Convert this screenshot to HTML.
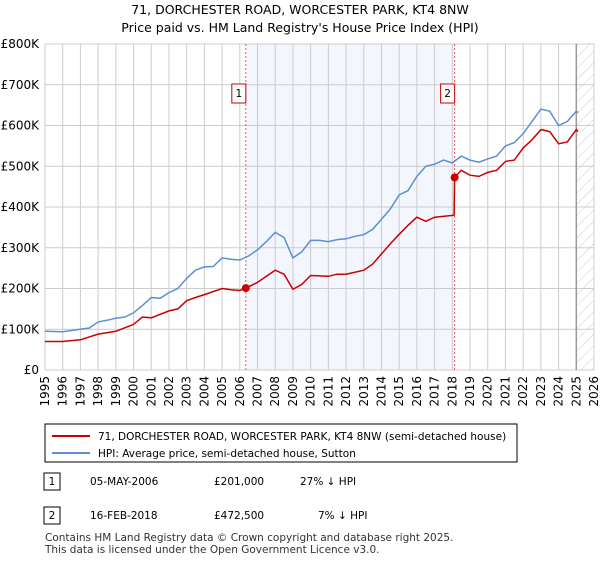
<!DOCTYPE html>
<html><head><meta charset="utf-8"><style>
body{margin:0;background:#fff;font-family:"DejaVu Sans","Liberation Sans",sans-serif;}
svg text{font-family:"DejaVu Sans","Liberation Sans",sans-serif;}
</style></head><body>
<svg width="600" height="560" xmlns="http://www.w3.org/2000/svg">
<defs><pattern id="h" width="8" height="8" patternUnits="userSpaceOnUse" patternTransform="rotate(45)"><line x1="0" y1="0" x2="0" y2="8" stroke="#ccc" stroke-width="1"/></pattern></defs>
<text x="300" y="14" text-anchor="middle" font-size="12.5">71, DORCHESTER ROAD, WORCESTER PARK, KT4 8NW</text>
<text x="300" y="32" text-anchor="middle" font-size="12.5">Price paid vs. HM Land Registry's House Price Index (HPI)</text>
<g id="plot"></g>
<rect x="45" y="424" width="472" height="38" fill="#fff" stroke="#000" stroke-width="1"/>
<line x1="52" y1="436" x2="90" y2="436" stroke="#cc0000" stroke-width="2"/>
<text x="98" y="440" font-size="10.5">71, DORCHESTER ROAD, WORCESTER PARK, KT4 8NW (semi-detached house)</text>
<line x1="52" y1="453" x2="90" y2="453" stroke="#5b8fd4" stroke-width="2"/>
<text x="98" y="457" font-size="10.5">HPI: Average price, semi-detached house, Sutton</text>
<g font-size="10.5">
<rect x="44" y="473" width="16" height="17" fill="#fff" stroke="#000"/>
<text x="52" y="485" text-anchor="middle">1</text>
<text x="90" y="485">05-MAY-2006</text>
<text x="214" y="485">£201,000</text>
<text x="300" y="485">27% ↓ HPI</text>
<rect x="44" y="507" width="16" height="17" fill="#fff" stroke="#000"/>
<text x="52" y="519" text-anchor="middle">2</text>
<text x="90" y="519">16-FEB-2018</text>
<text x="214" y="519">£472,500</text>
<text x="318" y="519">7% ↓ HPI</text>
</g>
<text x="45" y="541" font-size="10.5" fill="#333">Contains HM Land Registry data © Crown copyright and database right 2025.</text>
<text x="45" y="553" font-size="10.5" fill="#333">This data is licensed under the Open Government Licence v3.0.</text>
</svg>
<script>
const hpiYears=[1995,1996,1997,1997.5,1998,1998.5,1999,1999.5,2000,2000.5,2001,2001.5,2002,2002.5,2003,2003.5,2004,2004.5,2005,2005.5,2006,2006.5,2007,2007.5,2008,2008.5,2009,2009.5,2010,2010.5,2011,2011.5,2012,2012.5,2013,2013.5,2014,2014.5,2015,2015.5,2016,2016.5,2017,2017.5,2018,2018.5,2019,2019.5,2020,2020.5,2021,2021.5,2022,2022.5,2023,2023.5,2024,2024.5,2025,2025.1];
const hpiValues=[95,94,100,103,118,122,127,130,140,158,178,176,190,200,225,245,253,254,275,272,270,280,295,315,338,325,275,290,318,318,315,320,322,328,332,345,370,395,430,440,475,500,505,515,508,525,515,510,518,525,550,558,580,610,640,635,600,610,635,632];
const priceYears=[1995,1996,1997,1998,1999,2000,2000.5,2001,2002,2002.5,2003,2003.5,2004,2005,2005.5,2006,2006.34,2007,2007.5,2008,2008.5,2009,2009.5,2010,2011,2011.5,2012,2013,2013.5,2014,2014.5,2015,2015.5,2016,2016.5,2017,2018.1,2018.13,2018.5,2019,2019.5,2020,2020.5,2021,2021.5,2022,2022.5,2023,2023.5,2024,2024.5,2025,2025.1];
const priceValues=[70,70,74,88,95,112,130,128,145,150,170,178,185,200,197,195,201,215,230,245,235,198,210,232,230,235,235,245,260,285,310,333,355,375,365,375,380,472.5,490,478,475,485,490,512,515,545,565,590,585,555,560,590,585];
const saleYears=[2006.34,2018.13];
const saleValues=[201,472.5];
const yTicks=[0,100,200,300,400,500,600,700,800];
const yTickLabels=["£0","£100K","£200K","£300K","£400K","£500K","£600K","£700K","£800K"];
const xTicks=[1995,1996,1997,1998,1999,2000,2001,2002,2003,2004,2005,2006,2007,2008,2009,2010,2011,2012,2013,2014,2015,2016,2017,2018,2019,2020,2021,2022,2023,2024,2025,2026];
const X0=45,X1=594,Y0=370,Y1=44;
const xs=y=>X0+(y-1995)/(2026-1995)*(X1-X0);
const ys=v=>Y0-v/800*(Y0-Y1);
const NS="http://www.w3.org/2000/svg";
const g=document.getElementById('plot');
function mk(t,a){const e=document.createElementNS(NS,t);for(const k in a)e.setAttribute(k,a[k]);g.appendChild(e);return e;}
let r=mk('rect',{x:xs(saleYears[0]),y:Y1,width:xs(saleYears[1])-xs(saleYears[0]),height:Y0-Y1,fill:'#f0f4fc',opacity:0.8});


let hr=mk('rect',{x:xs(2025),y:Y1,width:X1-xs(2025),height:Y0-Y1,fill:'url(#h)'});


xTicks.forEach(t=>{const l=mk('line',{x1:xs(t),x2:xs(t),y1:Y1,y2:Y0,stroke:'#ccc','stroke-width':1});


const tx=mk('text',{x:0,y:0,'font-size':12,'text-anchor':'end',transform:`translate(${xs(t)+4},${Y0+6}) rotate(-90)`});tx.textContent=t;

});
yTicks.forEach((t,i)=>{const l=mk('line',{x1:X0,x2:X1,y1:ys(t),y2:ys(t),stroke:'#ccc','stroke-width':1});


const tx=mk('text',{x:X0-6,y:ys(t)+4,'font-size':12,'text-anchor':'end'});tx.textContent=yTickLabels[i];

});
let vl=mk('line',{x1:xs(2025),x2:xs(2025),y1:Y1,y2:Y0,stroke:'#999','stroke-width':1.5});


saleYears.forEach((s,i)=>{const l=mk('line',{x1:xs(s),x2:xs(s),y1:Y1,y2:Y0,stroke:'#e55','stroke-width':1,'stroke-dasharray':'2,2'});


const b=mk('rect',{x:xs(s)-14,y:84,width:14,height:19,fill:'#fff',stroke:'#cc0000'});


const t=mk('text',{x:xs(s)-7,y:97,'font-size':10.5,'text-anchor':'middle'});t.textContent=String(i+1);

});
const path=(xa,va)=>xa.map((y,i)=>(i?'L':'M')+xs(y).toFixed(1)+','+ys(va[i]).toFixed(1)).join('');
let hp=mk('path',{d:path(hpiYears,hpiValues),fill:'none',stroke:'#5b8fd4','stroke-width':1.5});


let pp=mk('path',{d:path(priceYears,priceValues),fill:'none',stroke:'#cc0000','stroke-width':1.5});


saleYears.forEach((s,i)=>{const c=mk('circle',{cx:xs(s),cy:ys(saleValues[i]),r:4,fill:'#cc0000'});

});
</script>
</body></html>
